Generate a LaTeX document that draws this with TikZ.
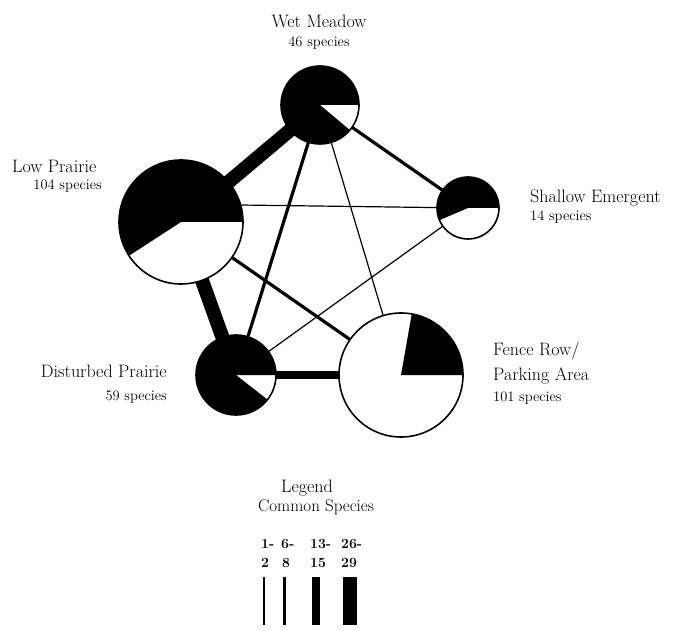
\documentclass[tikz,border=0pt]{standalone}
\newcommand\mypie[4]{%
  \fill[white] (#1) circle[radius=#2pt];
  \fill[black] (#1) -- ++(#3:#2pt) arc[start angle=#3, end angle=#4, radius=#2pt] -- cycle;
  \node[rim, minimum size=2*#2pt] (#1c) at (#1) {};
}
\begin{document}
\begin{tikzpicture}[x=1pt,y=1pt,
  cw1/.style={line width=1.2pt},
  cw2/.style={line width=3.2pt},
  cw3/.style={line width=7.5pt},
  cw4/.style={line width=14pt},
  rim/.style={circle, draw, line width=1.6pt, inner sep=0pt},
  ttl/.style={font=\fontsize{18}{21}\selectfont, inner sep=0pt},
  spc/.style={font=\fontsize{14.5}{17}\selectfont, inner sep=0pt},
  lgn/.style={font=\fontsize{14}{16}\selectfont\bfseries, inner sep=0pt, anchor=base west}]
\useasboundingbox (0,0) rectangle (680,630);
% centres
\coordinate (wm) at (320,525);
\coordinate (lp) at (181,408);
\coordinate (se) at (468,422);
\coordinate (dp) at (236,255);
\coordinate (fr) at (401,255);
\coordinate (lpse) at (240,425);
% connectors
\draw[cw4] (wm) -- (lp);
\draw[cw4] (lp) -- (dp);
\draw[cw3] (dp) -- (fr);
\draw[cw2] (wm) -- (se);
\draw[cw2] (wm) -- (dp);
\draw[cw2] (lp) -- (fr);
\draw[cw1] (wm) -- (fr);
\draw[cw1] (lpse) -- (se);
\draw[cw1] (dp) -- (se);
% pies
\mypie{wm}{39}{0}{320}
\mypie{lp}{62}{0}{213}
\mypie{se}{31}{0}{203}
\mypie{dp}{40}{0}{322}
\mypie{fr}{62}{0}{80}
% labels
\node[ttl, anchor=base] (wmt) at (319,602) {Wet Meadow};
\node[spc, anchor=base] (wms) at (319,583) {46 species};
\node[ttl, anchor=base west] (lpt) at (12,457) {Low Prairie};
\node[spc, anchor=base east] (lps) at (102,440) {104 species};
\node[ttl, anchor=base west] (set) at (530,427) {Shallow Emergent};
\node[spc, anchor=base west] (ses) at (530,409) {14 species};
\node[ttl, anchor=base west] (frt) at (493,275) {Fence Row/};
\node[ttl, anchor=base west] (frt2) at (493,250) {Parking Area};
\node[spc, anchor=base west] (frs) at (493,229) {101 species};
\node[ttl, anchor=base east] (dpt) at (167,253) {Disturbed Prairie};
\node[spc, anchor=base east] (dps) at (167,230) {59 species};
% legend
\node[ttl, anchor=base] (lg) at (307,138) {Legend};
\node[font=\fontsize{17}{20}\selectfont, inner sep=0pt, anchor=base] (lgc) at (316,119) {Common Species};
\node[lgn] (n1) at (261,82) {1-};
\node[lgn] (n2) at (281,82) {6-};
\node[lgn] (n3) at (310,82) {13-};
\node[lgn] (n4) at (341,82) {26-};
\node[lgn] (m1) at (261,63) {2};
\node[lgn] (m2) at (282,63) {8};
\node[lgn] (m3) at (310,63) {15};
\node[lgn] (m4) at (341,63) {29};
\draw[cw1] (264,5) -- (264,53);
\draw[cw2] (284.5,5) -- (284.5,53);
\draw[cw3] (316,5) -- (316,53);
\draw[cw4] (350,5) -- (350,53);
\end{tikzpicture}
\end{document}
